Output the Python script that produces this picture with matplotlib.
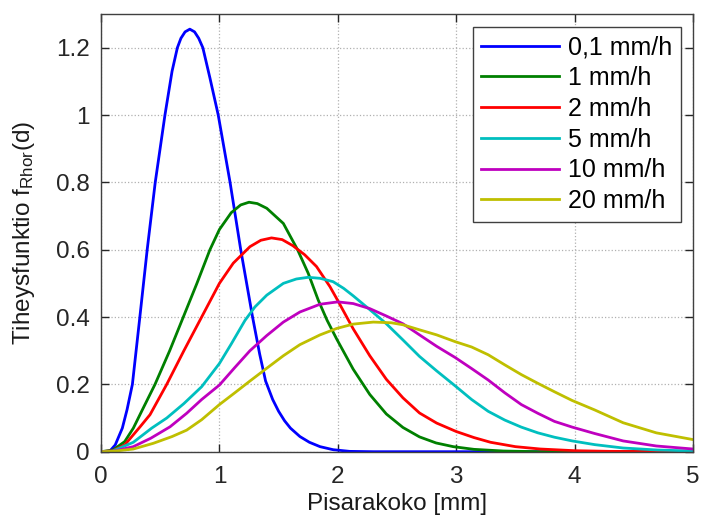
import matplotlib
matplotlib.use("Agg")
import matplotlib.pyplot as plt

plt.rcParams['font.family'] = ['Liberation Sans', 'DejaVu Sans']
plt.rcParams['mathtext.fontset'] = 'custom'
plt.rcParams['mathtext.rm'] = 'Liberation Sans'
plt.rcParams['mathtext.it'] = 'Liberation Sans'

# Values (drop size in mm, density)
d_01 = [0, 0.07, 0.12, 0.18, 0.22, 0.265, 0.328, 0.39, 0.458, 0.54, 0.6, 0.645, 0.675,
        0.71, 0.75, 0.79, 0.825, 0.86, 0.92, 0.99, 1.09, 1.18, 1.28, 1.34, 1.39, 1.45,
        1.5, 1.55, 1.6, 1.68, 1.76, 1.85, 1.96, 2.1, 2.3, 5.0]
f_01 = [0, 0, 0.02, 0.07, 0.125, 0.2, 0.4, 0.6, 0.8, 1.0, 1.13, 1.2, 1.228,
        1.247, 1.255, 1.247, 1.228, 1.2, 1.11, 1.0, 0.8, 0.6, 0.4, 0.29, 0.21, 0.155,
        0.12, 0.092, 0.07, 0.045, 0.028, 0.015, 0.006, 0.001, 0, 0]

d_1 = [0, 0.1, 0.2, 0.273, 0.35, 0.456, 0.58, 0.695, 0.81, 0.92, 1.0, 1.1, 1.18, 1.25,
       1.32, 1.40, 1.54, 1.66, 1.75, 1.835, 1.91, 1.99, 2.13, 2.27, 2.41, 2.55, 2.69, 2.83,
       2.975, 3.15, 3.4, 3.7, 5.0]
f_1 = [0, 0.005, 0.03, 0.07, 0.125, 0.2, 0.3, 0.4, 0.5, 0.6, 0.66, 0.71, 0.733, 0.741,
       0.737, 0.723, 0.678, 0.60, 0.53, 0.45, 0.39, 0.335, 0.245, 0.17, 0.112, 0.072, 0.044, 0.026,
       0.015, 0.007, 0.002, 0, 0]

d_2 = [0, 0.1, 0.2, 0.33, 0.414, 0.555, 0.7, 0.85, 1.0, 1.117, 1.258, 1.35, 1.44,
       1.53, 1.62, 1.72, 1.82, 1.934, 1.99, 2.13, 2.27, 2.41, 2.55, 2.69, 2.835, 3.0,
       3.15, 3.29, 3.5, 3.71, 4.0, 4.3, 5.0]
f_2 = [0, 0.003, 0.02, 0.074, 0.11, 0.2, 0.3, 0.4, 0.5, 0.56, 0.609, 0.628, 0.635,
       0.63, 0.612, 0.585, 0.55, 0.49, 0.455, 0.365, 0.285, 0.215, 0.16, 0.115, 0.085, 0.06,
       0.042, 0.028, 0.015, 0.008, 0.003, 0.001, 0]

d_5 = [0, 0.1, 0.273, 0.428, 0.555, 0.7, 0.85, 1.0, 1.1, 1.216, 1.3, 1.4, 1.54, 1.65,
       1.75, 1.85, 1.96, 2.05, 2.13, 2.27, 2.41, 2.55, 2.69, 2.835, 3.0, 3.13, 3.27,
       3.41, 3.55, 3.69, 3.83, 3.98, 4.17, 4.41, 4.7, 5.0]
f_5 = [0, 0.002, 0.028, 0.07, 0.1, 0.143, 0.193, 0.262, 0.32, 0.39, 0.43, 0.465, 0.5, 0.513,
       0.518, 0.515, 0.505, 0.485, 0.463, 0.422, 0.38, 0.332, 0.283, 0.24, 0.193, 0.155, 0.12,
       0.094, 0.073, 0.056, 0.043, 0.032, 0.021, 0.011, 0.005, 0.002]

d_10 = [0, 0.1, 0.273, 0.42, 0.583, 0.723, 0.85, 1.0, 1.13, 1.258, 1.4, 1.54, 1.68,
        1.85, 2.0, 2.13, 2.27, 2.41, 2.55, 2.69, 2.835, 2.99, 3.13, 3.27, 3.41, 3.55,
        3.69, 3.83, 3.98, 4.17, 4.41, 4.69, 5.0]
f_10 = [0, 0.001, 0.015, 0.04, 0.074, 0.114, 0.155, 0.198, 0.25, 0.30, 0.345, 0.385, 0.415,
        0.438, 0.445, 0.44, 0.425, 0.403, 0.38, 0.347, 0.313, 0.28, 0.247, 0.213, 0.175, 0.14,
        0.114, 0.09, 0.073, 0.054, 0.032, 0.017, 0.008]

d_20 = [0, 0.1, 0.273, 0.442, 0.6, 0.723, 0.85, 1.0, 1.13, 1.258, 1.4, 1.54, 1.68,
        1.85, 1.99, 2.13, 2.3, 2.45, 2.55, 2.69, 2.835, 2.99, 3.13, 3.27, 3.41, 3.55,
        3.69, 3.83, 3.98, 4.17, 4.41, 4.69, 5.0]
f_20 = [0, 0.001, 0.008, 0.025, 0.045, 0.064, 0.095, 0.14, 0.175, 0.21, 0.248, 0.285, 0.318,
        0.347, 0.366, 0.379, 0.385, 0.383, 0.377, 0.362, 0.347, 0.327, 0.311, 0.288, 0.258, 0.229,
        0.203, 0.178, 0.152, 0.124, 0.086, 0.056, 0.036]

labels = ['0,1 mm/h', '1 mm/h', '2 mm/h', '5 mm/h', '10 mm/h', '20 mm/h']
colors = ['#0000ff', '#008000', '#ff0000', '#00bfbf', '#bf00bf', '#bfbf00']

x_ticks = [0, 1, 2, 3, 4, 5]
y_ticks = [0, 0.2, 0.4, 0.6, 0.8, 1.0, 1.2]
y_tick_labels = ['0', '0.2', '0.4', '0.6', '0.8', '1', '1.2']

fig = plt.figure(figsize=(7.01, 5.21), dpi=100)
ax = fig.add_axes([0.1441, 0.133, 0.8445, 0.8401])

series = [(d_01, f_01), (d_1, f_1), (d_2, f_2), (d_5, f_5), (d_10, f_10), (d_20, f_20)]
for (d, f), lab, col in zip(series, labels, colors):
    ax.plot(d, f, color=col, lw=2.0, label=lab, solid_joinstyle='round')

ax.set_xlim(0, 5)
ax.set_ylim(0, 1.3)
ax.set_xticks(x_ticks)
ax.set_xticklabels([str(t) for t in x_ticks])
ax.set_yticks(y_ticks)
ax.set_yticklabels(y_tick_labels)

ax.grid(True, linestyle=':', color='#b0b0b0', linewidth=0.9)
ax.tick_params(direction='in', top=True, right=True, length=6, width=1,
               labelsize=17.5, pad=8, colors='#262626')
ax.tick_params(axis='x', pad=10)
for s in ax.spines.values():
    s.set_color('#404040')
    s.set_linewidth(1.0)

ax.set_xlabel('Pisarakoko [mm]', fontsize=17.5, color='#1a1a1a', labelpad=4)
ax.set_ylabel('Tiheysfunktio f$_{\\mathrm{Rhor}}$(d)', fontsize=17.5, color='#1a1a1a', labelpad=14)

leg = ax.legend(loc='upper right', fontsize=18, handlelength=3.1, handletextpad=0.35,
                labelspacing=0.27, borderaxespad=0.5, borderpad=0.35,
                fancybox=False, framealpha=1)
leg.get_frame().set_edgecolor('#404040')
leg.get_frame().set_linewidth(1.0)

fig.savefig('out.png', dpi=100)
